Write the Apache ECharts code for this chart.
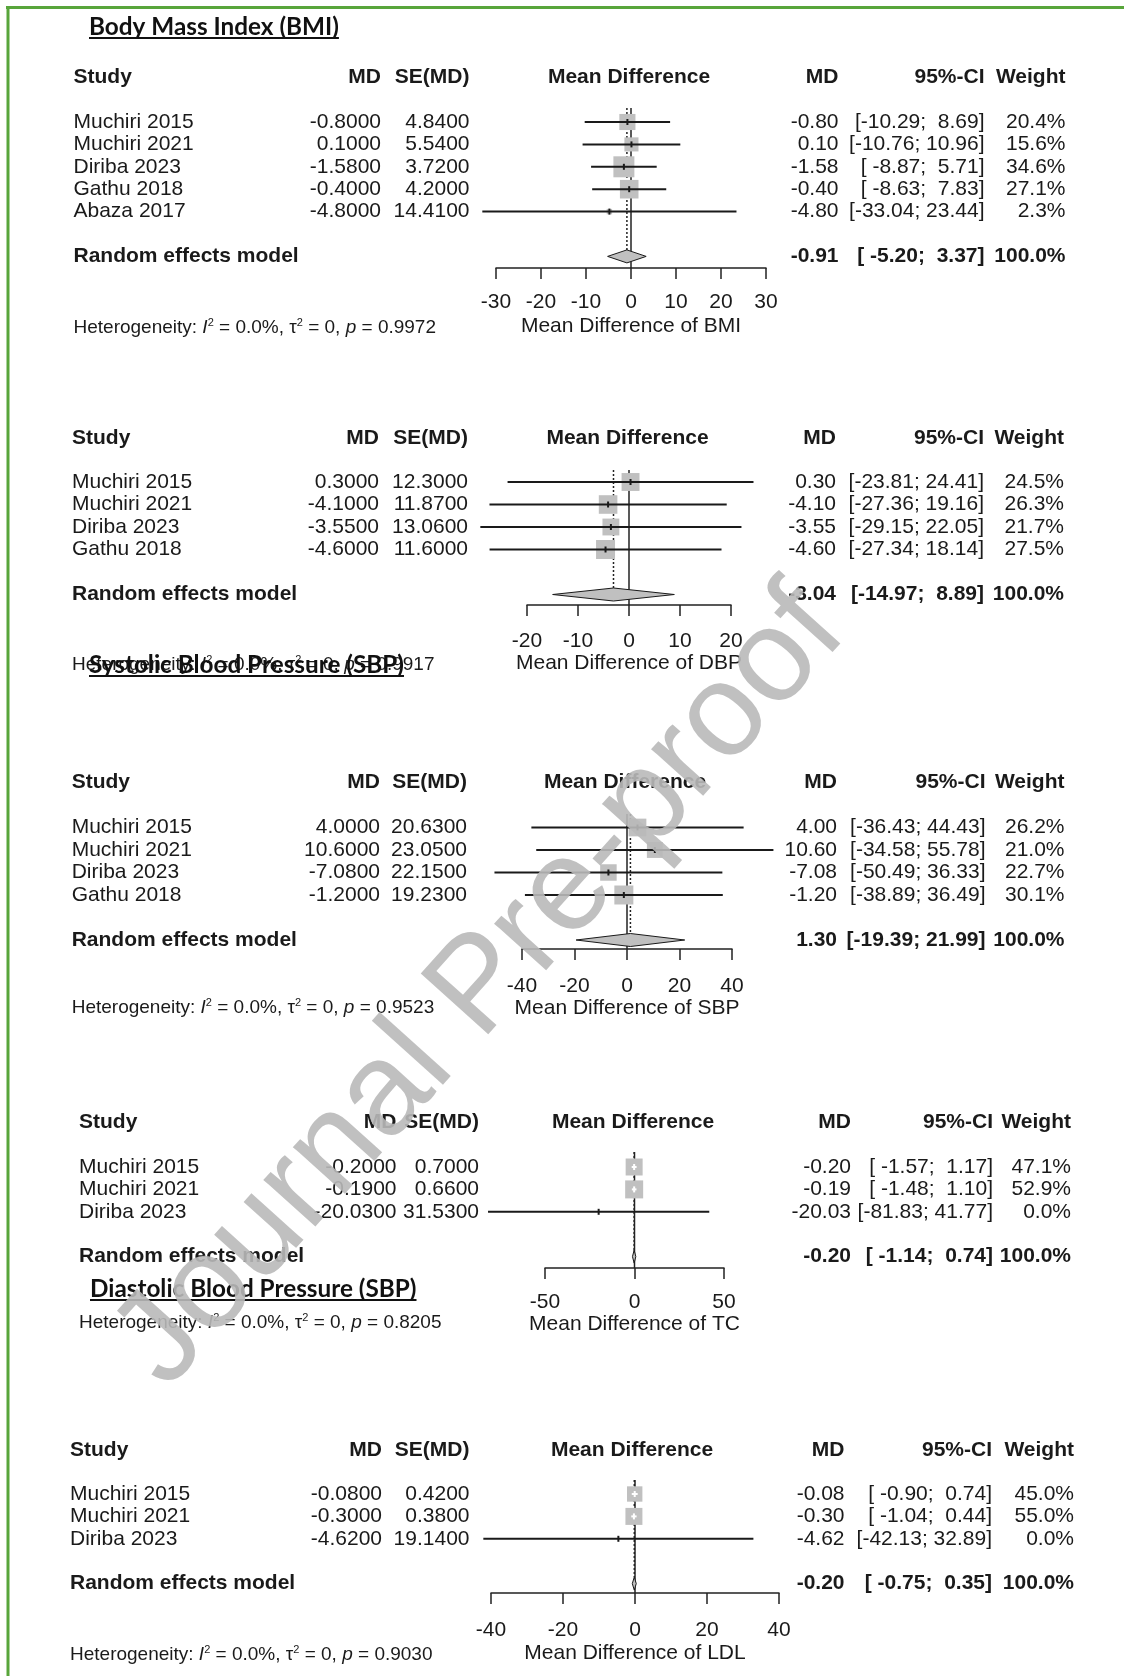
<!DOCTYPE html>
<html>
<head>
<meta charset="utf-8">
<script src="https://cdn.jsdelivr.net/npm/echarts@6/dist/echarts.min.js"></script>
<style>
  html, body { margin: 0; padding: 0; background: #ffffff; }
  #chart { width: 1124px; height: 1676px; }
</style>
</head>
<body>
<div id="chart"></div>
<script>
// ---------- Body Mass Index ----------
const bmiStudies = ['Muchiri 2015', 'Muchiri 2021', 'Diriba 2023', 'Gathu 2018', 'Abaza 2017'];
const bmiMD      = [-0.80, 0.10, -1.58, -0.40, -4.80];
const bmiSE      = [4.84, 5.54, 3.72, 4.20, 14.41];
const bmiLower   = [-10.29, -10.76, -8.87, -8.63, -33.04];
const bmiUpper   = [8.69, 10.96, 5.71, 7.83, 23.44];
const bmiWeight  = [20.4, 15.6, 34.6, 27.1, 2.3];
const bmiPooled  = [-0.91, -5.20, 3.37, 100.0];   // MD, lower, upper, weight
const bmiTicks   = [-30, -20, -10, 0, 10, 20, 30];
const bmiHet     = ['0.0%', '0', '0.9972'];        // I^2, tau^2, p

// ---------- Diastolic blood pressure ----------
const dbpStudies = ['Muchiri 2015', 'Muchiri 2021', 'Diriba 2023', 'Gathu 2018'];
const dbpMD      = [0.30, -4.10, -3.55, -4.60];
const dbpSE      = [12.30, 11.87, 13.06, 11.60];
const dbpLower   = [-23.81, -27.36, -29.15, -27.34];
const dbpUpper   = [24.41, 19.16, 22.05, 18.14];
const dbpWeight  = [24.5, 26.3, 21.7, 27.5];
const dbpPooled  = [-3.04, -14.97, 8.89, 100.0];
const dbpTicks   = [-20, -10, 0, 10, 20];
const dbpHet     = ['0.0%', '0', '0.9917'];

// ---------- Systolic blood pressure ----------
const sbpStudies = ['Muchiri 2015', 'Muchiri 2021', 'Diriba 2023', 'Gathu 2018'];
const sbpMD      = [4.00, 10.60, -7.08, -1.20];
const sbpSE      = [20.63, 23.05, 22.15, 19.23];
const sbpLower   = [-36.43, -34.58, -50.49, -38.89];
const sbpUpper   = [44.43, 55.78, 36.33, 36.49];
const sbpWeight  = [26.2, 21.0, 22.7, 30.1];
const sbpPooled  = [1.30, -19.39, 21.99, 100.0];
const sbpTicks   = [-40, -20, 0, 20, 40];
const sbpHet     = ['0.0%', '0', '0.9523'];

// ---------- Total cholesterol ----------
const tcStudies  = ['Muchiri 2015', 'Muchiri 2021', 'Diriba 2023'];
const tcMD       = [-0.20, -0.19, -20.03];
const tcSE       = [0.70, 0.66, 31.53];
const tcLower    = [-1.57, -1.48, -81.83];
const tcUpper    = [1.17, 1.10, 41.77];
const tcWeight   = [47.1, 52.9, 0.0];
const tcPooled   = [-0.20, -1.14, 0.74, 100.0];
const tcTicks    = [-50, 0, 50];
const tcHet      = ['0.0%', '0', '0.8205'];

// ---------- LDL cholesterol ----------
const ldlStudies = ['Muchiri 2015', 'Muchiri 2021', 'Diriba 2023'];
const ldlMD      = [-0.08, -0.30, -4.62];
const ldlSE      = [0.42, 0.38, 19.14];
const ldlLower   = [-0.90, -1.04, -42.13];
const ldlUpper   = [0.74, 0.44, 32.89];
const ldlWeight  = [45.0, 55.0, 0.0];
const ldlPooled  = [-0.20, -0.75, 0.35, 100.0];
const ldlTicks   = [-40, -20, 0, 20, 40];
const ldlHet     = ['0.0%', '0', '0.9030'];

// ---------- page layout (pixels) ----------
const FONT = "'Liberation Sans', Arial, sans-serif";
const TITLE_FONT = "Lato, 'Open Sans', sans-serif";
const INK = '#1a1a1a';
const GREEN = '#58a53b';

const panels = [
  { studies: bmiStudies, md: bmiMD, se: bmiSE, lower: bmiLower, upper: bmiUpper, weight: bmiWeight,
    pooled: bmiPooled, ticks: bmiTicks, het: bmiHet, axisName: 'Mean Difference of BMI',
    L: { x0: 496, x1: 766, row1: 122, step: 22.4, axisY: 268, topY: 108, headY: 77, tickLabY: 302, nameY: 326, hetY: 328,
         name: 73.5, mdX: 381, seX: 469.5, headMid: 629, md2X: 838.5, ciX: 984.5, wX: 1065.5, sq: 21 } },
  { studies: dbpStudies, md: dbpMD, se: dbpSE, lower: dbpLower, upper: dbpUpper, weight: dbpWeight,
    pooled: dbpPooled, ticks: dbpTicks, het: dbpHet, axisName: 'Mean Difference of DBP',
    L: { x0: 527, x1: 731, row1: 482, step: 22.5, axisY: 605, topY: 470, headY: 438, tickLabY: 641, nameY: 662, hetY: 665,
         name: 72, mdX: 379, seX: 468, headMid: 627.5, md2X: 836, ciX: 984, wX: 1064, sq: 19 } },
  { studies: sbpStudies, md: sbpMD, se: sbpSE, lower: sbpLower, upper: sbpUpper, weight: sbpWeight,
    pooled: sbpPooled, ticks: sbpTicks, het: sbpHet, axisName: 'Mean Difference of SBP',
    L: { x0: 522, x1: 732, row1: 827.5, step: 22.5, axisY: 949, topY: 814, headY: 782, tickLabY: 986, nameY: 1007, hetY: 1008,
         name: 71.7, mdX: 380, seX: 467, headMid: 625, md2X: 837, ciX: 985.5, wX: 1064.5, sq: 19 } },
  { studies: tcStudies, md: tcMD, se: tcSE, lower: tcLower, upper: tcUpper, weight: tcWeight,
    pooled: tcPooled, ticks: tcTicks, het: tcHet, axisName: 'Mean Difference of TC',
    L: { x0: 545, x1: 724, row1: 1167, step: 22.4, axisY: 1268, topY: 1152, headY: 1122, tickLabY: 1302, nameY: 1323, hetY: 1323,
         name: 79, mdX: 396.5, seX: 479, headMid: 633, md2X: 851, ciX: 993, wX: 1071, sq: 18 } },
  { studies: ldlStudies, md: ldlMD, se: ldlSE, lower: ldlLower, upper: ldlUpper, weight: ldlWeight,
    pooled: ldlPooled, ticks: ldlTicks, het: ldlHet, axisName: 'Mean Difference of LDL',
    L: { x0: 491, x1: 779, row1: 1494, step: 22.4, axisY: 1593, topY: 1480, headY: 1450, tickLabY: 1630, nameY: 1653, hetY: 1655,
         name: 70, mdX: 382, seX: 469.5, headMid: 632, md2X: 844.5, ciX: 992, wX: 1074, sq: 17 } }
];

const sectionTitles = [
  { text: 'Body Mass Index (BMI)', x: 89, y: 27 },
  { text: 'Systolic Blood Pressure (SBP)', x: 89, y: 665 },
  { text: 'Diastolic Blood Pressure (SBP)', x: 90, y: 1289 }
];

// ---------- helpers ----------
function padLeft(s, n) { while (s.length < n) s = ' ' + s; return s; }

function textEl(x, y, text, align, bold, size) {
  return {
    type: 'text', x: x, y: y,
    style: {
      text: text, align: align, verticalAlign: 'middle',
      textAlign: align, textVerticalAlign: 'middle',
      fontSize: size || 21, fontFamily: FONT, fontWeight: bold ? 'bold' : 'normal', fill: INK
    }
  };
}

const measureCtx = document.createElement('canvas').getContext('2d');
function textWidth(text, font) { measureCtx.font = font; return measureCtx.measureText(text).width; }

// ---------- build option ----------
const grids = [], xAxes = [], yAxes = [], series = [], graphics = [];

panels.forEach(function (p, idx) {
  const L = p.L;
  const n = p.studies.length;
  const pooledRow = n + 2;
  const gridTop = L.row1 - L.step;
  const yMax = (L.axisY - gridTop) / L.step;
  const topV = (L.topY - gridTop) / L.step;
  const headV = (L.headY - gridTop) / L.step;
  const maxW = Math.max.apply(null, p.weight);

  grids.push({ left: L.x0, top: gridTop, width: L.x1 - L.x0, height: L.axisY - gridTop, containLabel: false });

  xAxes.push({
    gridIndex: idx, type: 'value',
    min: p.ticks[0], max: p.ticks[p.ticks.length - 1], interval: p.ticks[1] - p.ticks[0],
    axisLine: { show: true, onZero: false, lineStyle: { color: '#222', width: 1.5 } },
    axisTick: { show: true, inside: false, length: 11, lineStyle: { color: '#222', width: 1.5 } },
    axisLabel: { fontSize: 21, fontFamily: FONT, color: INK, margin: L.tickLabY - L.axisY - 10.5,
                 showMinLabel: true, showMaxLabel: true },
    splitLine: { show: false },
    name: p.axisName, nameLocation: 'middle', nameGap: L.nameY - L.axisY - 10.5,
    nameTextStyle: { fontSize: 21, fontFamily: FONT, color: INK }
  });
  yAxes.push({ gridIndex: idx, type: 'value', inverse: true, min: 0, max: yMax, show: false });

  // reference line at zero and dotted line at the pooled estimate
  series.push({
    type: 'custom', xAxisIndex: idx, yAxisIndex: idx, clip: false, silent: true, z: 2,
    data: [[0, p.pooled[0]]],
    renderItem: function (params, api) {
      const a = api.coord([api.value(0), topV]);
      const b = api.coord([api.value(0), yMax]);
      const c = api.coord([api.value(1), topV]);
      const d = api.coord([api.value(1), pooledRow]);
      return {
        type: 'group', children: [
          { type: 'line', shape: { x1: a[0], y1: a[1], x2: b[0], y2: b[1] }, style: { stroke: '#222', lineWidth: 1.5 } },
          { type: 'line', shape: { x1: c[0], y1: c[1], x2: d[0], y2: d[1] - 6.5 },
            style: { stroke: '#222', lineWidth: 1.5, lineDash: [2, 2] } }
        ]
      };
    }
  });

  // study squares and confidence intervals
  series.push({
    type: 'custom', xAxisIndex: idx, yAxisIndex: idx, clip: false, silent: true, z: 3,
    data: p.studies.map(function (s, i) { return [p.md[i], p.lower[i], p.upper[i], p.weight[i], i + 1]; }),
    renderItem: function (params, api) {
      const row = api.value(4);
      const m = api.coord([api.value(0), row]);
      const lo = api.coord([api.value(1), row]);
      const hi = api.coord([api.value(2), row]);
      const side = L.sq * Math.sqrt(api.value(3) / maxW);
      const inside = (hi[0] - lo[0]) < side;
      const col = inside ? '#ffffff' : '#1a1a1a';
      const kids = [];
      if (side > 0) {
        kids.push({ type: 'rect', shape: { x: m[0] - side / 2, y: m[1] - side / 2, width: side, height: side },
                    style: { fill: '#c0c0c0' } });
      }
      kids.push({ type: 'line', shape: { x1: lo[0], y1: m[1], x2: hi[0], y2: m[1] }, style: { stroke: col, lineWidth: 2 } });
      kids.push({ type: 'line', shape: { x1: m[0], y1: m[1] - 3, x2: m[0], y2: m[1] + 3 }, style: { stroke: col, lineWidth: 2 } });
      return { type: 'group', children: kids };
    }
  });

  // pooled random effects diamond
  series.push({
    type: 'custom', xAxisIndex: idx, yAxisIndex: idx, clip: false, silent: true, z: 4,
    data: [[p.pooled[0], p.pooled[1], p.pooled[2], pooledRow]],
    renderItem: function (params, api) {
      const row = api.value(3);
      const m = api.coord([api.value(0), row]);
      const lo = api.coord([api.value(1), row]);
      const hi = api.coord([api.value(2), row]);
      return {
        type: 'polygon',
        shape: { points: [[lo[0], m[1]], [m[0], m[1] - 6.5], [hi[0], m[1]], [m[0], m[1] + 6.5]] },
        style: { fill: '#c0c0c0', stroke: '#1a1a1a', lineWidth: 1 }
      };
    }
  });

  // table text
  const lowAll = p.lower.concat([p.pooled[1]]).map(function (v) { return v.toFixed(2); });
  const upAll = p.upper.concat([p.pooled[2]]).map(function (v) { return v.toFixed(2); });
  const loLen = Math.max.apply(null, lowAll.map(function (s) { return s.length; }));
  const upLen = Math.max.apply(null, upAll.map(function (s) { return s.length; }));
  const ciText = lowAll.map(function (s, i) { return '[' + padLeft(s, loLen) + '; ' + padLeft(upAll[i], upLen) + ']'; });

  const rows = [];
  rows.push({ v: headV, cells: [
    [L.name, 'Study', 'left', true], [L.mdX, 'MD', 'right', true], [L.seX, 'SE(MD)', 'right', true],
    [L.headMid, 'Mean Difference', 'center', true], [L.md2X, 'MD', 'right', true],
    [L.ciX, '95%-CI', 'right', true], [L.wX, 'Weight', 'right', true]
  ] });
  p.studies.forEach(function (s, i) {
    rows.push({ v: i + 1, cells: [
      [L.name, s, 'left', false], [L.mdX, p.md[i].toFixed(4), 'right', false], [L.seX, p.se[i].toFixed(4), 'right', false],
      [L.md2X, p.md[i].toFixed(2), 'right', false], [L.ciX, ciText[i], 'right', false],
      [L.wX, p.weight[i].toFixed(1) + '%', 'right', false]
    ] });
  });
  rows.push({ v: pooledRow, cells: [
    [L.name, 'Random effects model', 'left', true], [L.md2X, p.pooled[0].toFixed(2), 'right', true],
    [L.ciX, ciText[n], 'right', true], [L.wX, p.pooled[3].toFixed(1) + '%', 'right', true]
  ] });

  series.push({
    type: 'custom', xAxisIndex: idx, yAxisIndex: idx, clip: false, silent: true, z: 5,
    data: rows.map(function (r) { return [0, r.v]; }),
    renderItem: function (params, api) {
      const r = rows[params.dataIndex];
      const y = api.coord([0, api.value(1)])[1];
      return { type: 'group', children: r.cells.map(function (c) { return textEl(c[0], y, c[1], c[2], c[3]); }) };
    }
  });

  // heterogeneity statement
  const hs = { fontSize: 19, fontFamily: FONT, fill: INK, lineHeight: 22 };
  graphics.push({
    type: 'text', x: L.name, y: L.hetY, z: 6,
    style: {
      text: '{a|Heterogeneity: }{i|I}{s|2}{a| = ' + p.het[0] + ', }{a|\u03c4}{s|2}{a| = ' + p.het[1] + ', }{i|p}{a| = ' + p.het[2] + '}',
      verticalAlign: 'middle', textVerticalAlign: 'middle',
      rich: {
        a: hs,
        i: Object.assign({}, hs, { fontStyle: 'italic' }),
        s: { fontSize: 11, fontFamily: FONT, fill: INK, verticalAlign: 'top', lineHeight: 22 }
      }
    }
  });
});

// section titles with underline
const TITLE_SIZE = 24.3;
sectionTitles.forEach(function (t) {
  const w = textWidth(t.text, 'bold ' + TITLE_SIZE + 'px ' + TITLE_FONT);
  graphics.push({ type: 'text', x: t.x, y: t.y, z: 20,
    style: { text: t.text, verticalAlign: 'middle', textVerticalAlign: 'middle', fontSize: TITLE_SIZE,
             fontFamily: TITLE_FONT, fontWeight: 'bold', fill: '#111' } });
  graphics.push({ type: 'line', z: 20, shape: { x1: t.x, y1: t.y + 11, x2: t.x + w, y2: t.y + 11 },
    style: { stroke: '#111', lineWidth: 2 } });
});

// green frame (top and left edges)
graphics.push({ type: 'line', z: 30, shape: { x1: 6, y1: 7.5, x2: 1124, y2: 7.5 }, style: { stroke: GREEN, lineWidth: 3 } });
graphics.push({ type: 'line', z: 30, shape: { x1: 8, y1: 6, x2: 8, y2: 1676 }, style: { stroke: GREEN, lineWidth: 3 } });

// watermark
graphics.push({
  type: 'text', x: 481, y: 988, rotation: 48 * Math.PI / 180, z: 50,
  style: { text: 'Journal Pre-proof', align: 'center', verticalAlign: 'middle', textAlign: 'center', textVerticalAlign: 'middle',
           fontSize: 132, fontFamily: FONT, fill: 'rgba(185,185,185,0.9)' }
});

const chart = echarts.init(document.getElementById('chart'), null, { renderer: 'canvas', width: 1124, height: 1676 });
chart.setOption({
  backgroundColor: '#ffffff',
  animation: false,
  grid: grids,
  xAxis: xAxes,
  yAxis: yAxes,
  series: series,
  graphic: { elements: graphics }
});
</script>
</body>
</html>
